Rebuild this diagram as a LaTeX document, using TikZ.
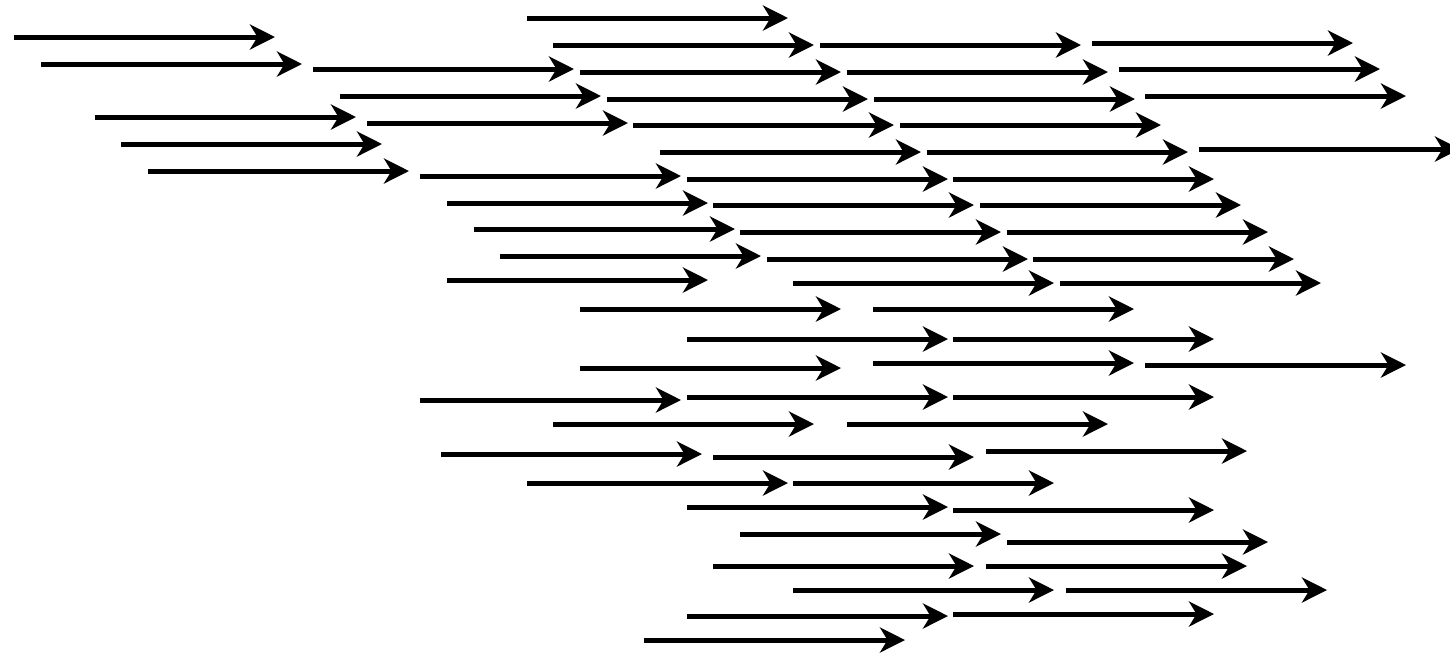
\documentclass[tikz,border=0pt]{standalone}
\usetikzlibrary{arrows.meta}

\begin{document}
\begin{tikzpicture}[x=0.02cm, y=-0.02cm,
    arr/.style={-{Stealth[length=0.5cm, width=0.5cm, inset=0.15cm]}, line width=0.1cm}]
    % 画布大小
    \useasboundingbox (0,0) rectangle (1450,654);

    % 左侧一列
    \foreach \x/\y in {14/37, 41/64, 95/117, 121/144, 148/171}
        \draw[arr] (\x,\y) -- ++(261,0);

    % 第二列
    \foreach \x/\y in {313/69, 340/96, 367/123, 420/176, 447/203, 474/229, 500/256, 447/280}
        \draw[arr] (\x,\y) -- ++(261,0);

    % 第三列
    \foreach \x/\y in {527/18, 553/45, 580/72, 607/99, 633/125, 660/152, 687/179, 713/205, 740/232, 767/259, 793/283}
        \draw[arr] (\x,\y) -- ++(261,0);

    % 第四列
    \foreach \x/\y in {820/45, 847/72, 874/99, 900/125, 927/152, 953/179, 980/205, 1007/232, 1033/259, 1060/283}
        \draw[arr] (\x,\y) -- ++(261,0);

    % 最右一列
    \foreach \x/\y in {1092/43, 1119/69, 1145/96, 1199/149}
        \draw[arr] (\x,\y) -- ++(261,0);

    % 下半部分
    \foreach \x/\y in {580/309, 873/309, 687/339, 953/339, 580/368, 873/363, 1145/365,
                       420/400, 687/397, 953/397, 553/424, 847/424, 441/454, 713/457, 986/451,
                       527/483, 793/483, 687/507, 953/510, 740/534, 1007/542, 713/566, 986/566,
                       793/590, 1066/590, 687/616, 953/614, 644/640}
        \draw[arr] (\x,\y) -- ++(261,0);
\end{tikzpicture}
\end{document}
